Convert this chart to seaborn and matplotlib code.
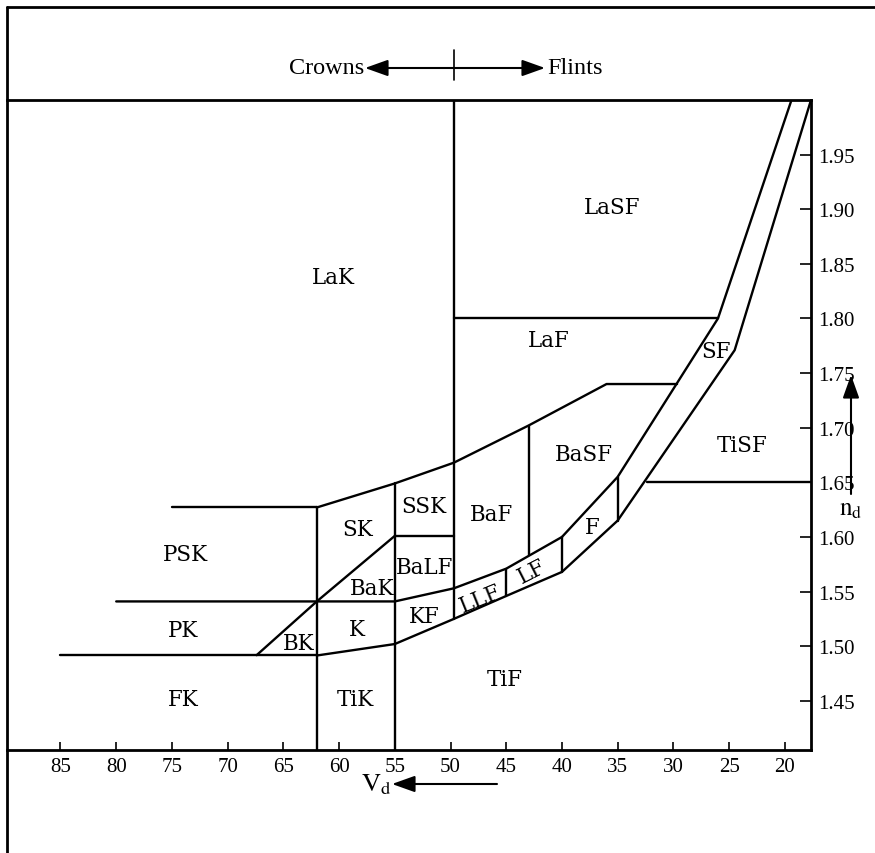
import seaborn as sns
import matplotlib
matplotlib.use("Agg")
import matplotlib.pyplot as plt
import pandas as pd
from matplotlib.lines import Line2D
from matplotlib.patches import FancyArrowPatch

# ---------------- data ----------------
x_ticks = [85, 80, 75, 70, 65, 60, 55, 50, 45, 40, 35, 30, 25, 20]
y_ticks = [1.45, 1.50, 1.55, 1.60, 1.65, 1.70, 1.75, 1.80, 1.85, 1.90, 1.95]

# boundary polylines of the glass map (vd, nd)
seg_names = ["v50", "psk_top", "v62", "v55", "upper", "lasf_laf", "sf_left",
             "sf_right", "mid", "fk_top", "bk_bak", "ssk_balf", "v43", "v45",
             "v40", "v35", "tisf"]
seg_vd = [
    [49.7, 49.7],
    [75, 62],
    [62, 62],
    [55, 55],
    [62, 55, 49.7, 43, 36, 29.67],
    [49.7, 26],
    [40, 35, 26, 19.4],
    [62, 55, 49.7, 45, 40, 35, 24.5, 17.65],
    [80, 62, 55, 49.7, 45, 40],
    [85, 62],
    [67.4, 62, 55],
    [55, 49.7],
    [43, 43],
    [45, 45],
    [40, 40],
    [35, 35],
    [32.4, 17.65],
]
seg_nd = [
    [2.0, 1.525],
    [1.627, 1.627],
    [1.627, 1.405],
    [1.649, 1.405],
    [1.627, 1.649, 1.668, 1.702, 1.740, 1.740],
    [1.80, 1.80],
    [1.600, 1.655, 1.80, 2.0],
    [1.4915, 1.502, 1.525, 1.546, 1.568, 1.615, 1.771, 2.0],
    [1.541, 1.541, 1.541, 1.553, 1.571, 1.600],
    [1.4918, 1.4918],
    [1.4918, 1.541, 1.601],
    [1.601, 1.601],
    [1.702, 1.5835],
    [1.571, 1.546],
    [1.600, 1.568],
    [1.655, 1.615],
    [1.65, 1.65],
]

# region labels
lab_text = ["LaSF", "LaK", "LaF", "SF", "BaSF", "TiSF", "SSK", "SK", "PSK",
            "BaF", "BaLF", "BaK", "F", "LF", "LLF", "KF", "PK", "K", "BK",
            "FK", "TiK", "TiF"]
lab_vd = [35.5, 60.5, 41.2, 26.2, 38.0, 23.8, 52.4, 58.3, 73.8,
          46.3, 52.3, 57.0, 37.3, 42.7, 47.3, 52.35, 74.0, 58.4, 63.6,
          74.0, 58.5, 45.1]
lab_nd = [1.902, 1.838, 1.780, 1.770, 1.676, 1.684, 1.628, 1.607, 1.584,
          1.621, 1.5725, 1.553, 1.609, 1.569, 1.5435, 1.528, 1.515, 1.516, 1.503,
          1.452, 1.452, 1.470]
lab_rot = [0, 0, 0, 0, 0, 0, 0, 0, 0,
           0, 0, 0, 0, 27, 22, 0, 0, 0, 0,
           0, 0, 0]

# ---------------- build table ----------------
rows = []
for name, xs, ys in zip(seg_names, seg_vd, seg_nd):
    for i, (xv, yv) in enumerate(zip(xs, ys)):
        rows.append({"seg": name, "order": i, "vd": xv, "nd": yv})
df = pd.DataFrame(rows)

sns.set_theme(style="white")
plt.rcParams["font.family"] = ["DejaVu Serif"]
plt.rcParams["mathtext.fontset"] = "stix"
plt.rcParams["text.color"] = "black"

W, H = 875, 854
fig = plt.figure(figsize=(W / 100, H / 100), dpi=100)
ax = fig.add_axes([7 / W, 1 - 751 / H, (811 - 7) / W, (751 - 101) / H])

sns.lineplot(data=df, x="vd", y="nd", units="seg", estimator=None, sort=False,
             color="black", linewidth=1.7, ax=ax, legend=False)

ax.set_xlim(89.8, 17.65)
ax.set_ylim(1.405, 2.0)
ax.set_xlabel("")
ax.set_ylabel("")

ax.set_xticks(x_ticks)
ax.set_xticklabels([str(v) for v in x_ticks], fontfamily="Liberation Serif", fontsize=15)
ax.yaxis.tick_right()
ax.set_yticks(y_ticks)
ax.set_yticklabels([f"{v:.2f}" for v in y_ticks], fontfamily="Liberation Serif", fontsize=15)
ax.tick_params(axis="x", direction="in", length=6, width=1.2, pad=5, bottom=True,
               colors="black")
ax.tick_params(axis="y", direction="in", length=8, width=1.2, pad=5, right=True,
               left=False, colors="black")

for s in ["top", "bottom", "right"]:
    ax.spines[s].set_visible(True)
    ax.spines[s].set_linewidth(2.0)
    ax.spines[s].set_color("black")
ax.spines["left"].set_visible(False)

for t, xv, yv, r in zip(lab_text, lab_vd, lab_nd, lab_rot):
    ax.text(xv, yv, t, ha="center", va="center", fontsize=15.5, rotation=r,
            rotation_mode="anchor", color="black")

# frame lines (scan border)
fig.add_artist(Line2D([7 / W, 7 / W], [0, 1 - 8 / H], transform=fig.transFigure,
                      color="black", lw=2.0))
fig.add_artist(Line2D([7 / W, 1], [1 - 8 / H, 1 - 8 / H], transform=fig.transFigure,
                      color="black", lw=2.0))

# header: Crowns <-|-> Flints
hy = 1 - 69 / H
fig.text(364 / W, hy, "Crowns", ha="right", va="center", fontsize=17.5,
         fontfamily="Liberation Serif", color="black")
fig.text(547 / W, hy, "Flints", ha="left", va="center", fontsize=17.5,
         fontfamily="Liberation Serif", color="black")
fig.add_artist(FancyArrowPatch((365 / W, hy), (545 / W, hy), transform=fig.transFigure,
                               arrowstyle="<|-|>,head_length=0.7,head_width=0.25",
                               mutation_scale=20, color="black", lw=1.5,
                               shrinkA=0, shrinkB=0))
fig.add_artist(Line2D([454 / W, 454 / W], [1 - 51 / H, 1 - 81 / H],
                      transform=fig.transFigure, color="black", lw=1.2))

# V_d arrow
vy = 1 - 785 / H
fig.text(376 / W, vy, r"$\mathrm{V}_\mathrm{d}$", ha="center", va="center", fontsize=19,
         color="black")
fig.add_artist(FancyArrowPatch((497 / W, vy), (392 / W, vy), transform=fig.transFigure,
                               arrowstyle="-|>,head_length=0.7,head_width=0.25",
                               mutation_scale=20, color="black", lw=1.5,
                               shrinkA=0, shrinkB=0))

# n_d arrow
nx = 851 / W
fig.add_artist(FancyArrowPatch((nx, 1 - 495 / H), (nx, 1 - 376 / H), transform=fig.transFigure,
                               arrowstyle="-|>,head_length=0.7,head_width=0.25",
                               mutation_scale=20, color="black", lw=1.5,
                               shrinkA=0, shrinkB=0))
fig.text(nx, 1 - 510 / H, r"$\mathrm{n}_\mathrm{d}$", ha="center", va="center", fontsize=18,
         color="black")

fig.savefig("out.png", dpi=100, facecolor="white")
